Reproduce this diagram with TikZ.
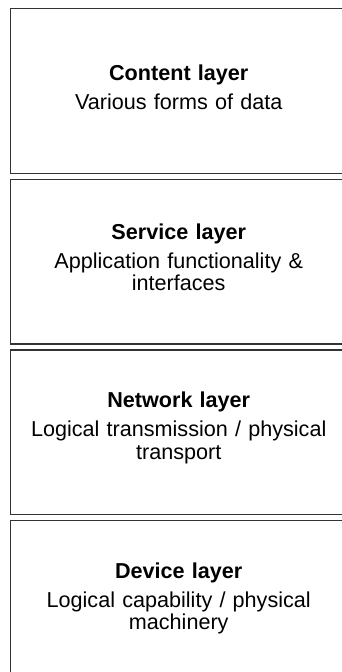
\documentclass[tikz,border=0pt]{standalone}
\usepackage{fontspec}
\setmainfont{Liberation Sans}
\usetikzlibrary{positioning}

\tikzset{
  layer/.style={draw=black!80, line width=1.1pt, minimum width=252pt,
    minimum height=123.4pt, inner sep=0pt},
  layertext/.style={inner sep=0pt, text width=240pt, align=center,
    font=\fontsize{16.2}{17}\selectfont},
}
\newcommand{\layertext}[2]{\textbf{#1}\\[4.5pt]#2}

\begin{document}
\begin{tikzpicture}[x=0.75pt,y=-0.75pt]
  \useasboundingbox (0,0) rectangle (342,672);
  \clip (0,0) rectangle (342,672);

  \node[layer,anchor=north west] (content) at (10,8) {};
  \node[layer,below=3.4pt of content] (service) {};
  \node[layer,below=3.4pt of service] (network) {};
  \node[layer,below=3.4pt of network] (device) {};

  \node[layertext] (contentText) at ([yshift=3pt]content.center)
    {\layertext{Content layer}{Various forms of data}};
  \node[layertext] (serviceText) at ([yshift=3pt]service.center)
    {\layertext{Service layer}{Application functionality \&\\interfaces}};
  \node[layertext] (networkText) at ([yshift=3pt]network.center)
    {\layertext{Network layer}{Logical transmission / physical\\transport}};
  \node[layertext] (deviceText) at ([yshift=3pt]device.center)
    {\layertext{Device layer}{Logical capability / physical\\machinery}};
\end{tikzpicture}
\end{document}
